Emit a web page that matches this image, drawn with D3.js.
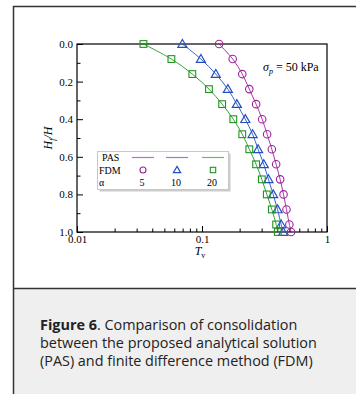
<!DOCTYPE html>
<html>
<head>
<meta charset="utf-8">
<script src="https://cdn.jsdelivr.net/npm/d3@7"></script>
<style>
  html, body { margin: 0; padding: 0; background: #fff; }
  svg { display: block; }
</style>
</head>
<body>
<div id="chart"></div>
<script>
// Valores
const hfRatio = [0, 0.08, 0.16, 0.24, 0.32, 0.40, 0.48, 0.56, 0.64, 0.72, 0.80, 0.88, 0.96, 1.0]
const tvAlpha5  = [0.137, 0.176, 0.210, 0.239, 0.271, 0.303, 0.332, 0.362, 0.392, 0.422, 0.449, 0.474, 0.500, 0.516]
const tvAlpha10 = [0.0697, 0.098, 0.129, 0.161, 0.190, 0.222, 0.254, 0.281, 0.312, 0.340, 0.371, 0.402, 0.430, 0.446]
const tvAlpha20 = [0.0340, 0.0569, 0.0837, 0.1137, 0.145, 0.178, 0.210, 0.239, 0.271, 0.301, 0.330, 0.362, 0.392, 0.404]
const alphas = ['5', '10', '20']
const xMajor = [0.01, 0.1, 1]
const xMajorLabels = ['0.01', '0.1', '1']
const yMajor = [0, 0.2, 0.4, 0.6, 0.8, 1.0]
const yMinor = [0.1, 0.3, 0.5, 0.7, 0.9]

const series = [
  { alpha: alphas[0], values: tvAlpha5,  color: '#a0209c', shape: 'circle' },
  { alpha: alphas[1], values: tvAlpha10, color: '#2350c0', shape: 'triangle' },
  { alpha: alphas[2], values: tvAlpha20, color: '#1f951f', shape: 'square' },
]

const W = 356, H = 394
const plot = { left: 77, right: 327, top: 44, bottom: 232 }
const serif = "'Liberation Serif', 'Times New Roman', serif"

const svg = d3.select('#chart').append('svg')
  .attr('width', W).attr('height', H)

// Tarjeta
svg.append('rect').attr('x', 13).attr('y', 289).attr('width', W).attr('height', H)
  .attr('fill', '#efefef')
svg.append('path')
  .attr('d', `M${W + 2},6.5 H13.5 V${H + 2}`)
  .attr('fill', 'none').attr('stroke', '#333').attr('stroke-width', 1.5)
svg.append('line').attr('x1', 13).attr('x2', W).attr('y1', 288.5).attr('y2', 288.5)
  .attr('stroke', '#333').attr('stroke-width', 1.5)

const x = d3.scaleLog().domain([0.01, 1]).range([plot.left, plot.right])
const y = d3.scaleLinear().domain([0, 1]).range([plot.top, plot.bottom])

const minorX = []
for (let d = 0.01; d < 1; d *= 10) {
  for (let k = 2; k <= 9; k++) minorX.push(+(k * d).toPrecision(2))
}

function styleAxis(g) {
  g.attr('font-family', serif).attr('font-size', 11)
  g.select('.domain').remove()
  g.selectAll('line').attr('stroke', '#000').attr('stroke-width', 1)
  g.selectAll('text')
    .attr('fill', '#000')
    .attr('font-size', '11px')
    .attr('font-weight', 'normal')
    .attr('font-family', serif)
}

// Eje X
const gx = svg.append('g').attr('transform', `translate(0,${plot.bottom})`)
  .call(d3.axisBottom(x).tickValues(xMajor).tickSize(-6).tickPadding(3)
    .tickFormat((d, i) => xMajorLabels[i]))
styleAxis(gx)
const gxm = svg.append('g').attr('transform', `translate(0,${plot.bottom})`)
  .call(d3.axisBottom(x).tickValues(minorX).tickSize(-3.5).tickFormat(''))
styleAxis(gxm)

// Eje Y
const gy = svg.append('g').attr('transform', `translate(${plot.left},0)`)
  .call(d3.axisLeft(y).tickValues(yMajor).tickSize(-6).tickPadding(4)
    .tickFormat(d3.format('.1f')))
styleAxis(gy)
const gym = svg.append('g').attr('transform', `translate(${plot.left},0)`)
  .call(d3.axisLeft(y).tickValues(yMinor).tickSize(-3.5).tickFormat(''))
styleAxis(gym)

// Marco
svg.append('rect')
  .attr('x', plot.left).attr('y', plot.top)
  .attr('width', plot.right - plot.left).attr('height', plot.bottom - plot.top)
  .attr('fill', 'none').attr('stroke', '#000').attr('stroke-width', 1.2)

// Etiquetas de ejes
svg.append('text')
  .attr('transform', `translate(52,${(plot.top + plot.bottom) / 2}) rotate(-90)`)
  .attr('text-anchor', 'middle')
  .attr('font-family', serif).attr('font-size', '12px').attr('font-style', 'italic')
  .call(t => {
    t.append('tspan').text('H')
    t.append('tspan').attr('font-size', '8px').attr('dy', 3).text('f')
    t.append('tspan').attr('dy', -3).text('/H')
  })

svg.append('text')
  .attr('x', x(0.1) - 2).attr('y', 255)
  .attr('text-anchor', 'middle')
  .attr('font-family', serif).attr('font-size', '12px')
  .call(t => {
    t.append('tspan').attr('font-style', 'italic').text('T')
    t.append('tspan').attr('font-size', '8px').attr('dy', 3).text('v')
  })

// Anotación
svg.append('text')
  .attr('x', 263).attr('y', 71)
  .attr('font-family', serif).attr('font-size', '12px')
  .call(t => {
    t.append('tspan').attr('font-style', 'italic').text('σ')
    t.append('tspan').attr('font-style', 'italic').attr('font-size', '8px').attr('dy', 3).text('p')
    t.append('tspan').attr('dy', -3).text(' = 50 kPa')
  })

// Curvas
const line = d3.line()
  .x(d => x(d[0])).y(d => y(d[1]))
  .curve(d3.curveCatmullRom)

function drawMarker(g, shape, cx, cy, size, color) {
  if (shape === 'circle') {
    g.append('circle').attr('cx', cx).attr('cy', cy).attr('r', size * 0.5)
      .attr('fill', 'none').attr('stroke', color).attr('stroke-width', 1.1)
  } else if (shape === 'triangle') {
    const s = size * 1.1
    g.append('path')
      .attr('d', `M${cx},${cy - s * 0.55} L${cx + s * 0.55},${cy + s * 0.4} L${cx - s * 0.55},${cy + s * 0.4} Z`)
      .attr('fill', 'none').attr('stroke', color).attr('stroke-width', 1.2)
  } else {
    const s = size * 0.9
    g.append('rect').attr('x', cx - s / 2).attr('y', cy - s / 2).attr('width', s).attr('height', s)
      .attr('fill', 'none').attr('stroke', color).attr('stroke-width', 1.1)
  }
}

const gData = svg.append('g')
series.forEach(s => {
  const pts = s.values.map((v, i) => [v, hfRatio[i]])
  gData.append('path').datum(pts)
    .attr('d', line)
    .attr('fill', 'none').attr('stroke', s.color).attr('stroke-width', 0.9)
  pts.forEach(p => drawMarker(gData, s.shape, x(p[0]), y(p[1]), 7.5, s.color))
})

// Leyenda
const leg = svg.append('g')
leg.append('rect').attr('x', 98.5).attr('y', 152.5).attr('width', 131).attr('height', 38)
  .attr('fill', '#ccc').attr('transform', 'translate(1,1)')
leg.append('rect').attr('x', 97.5).attr('y', 151.5).attr('width', 131).attr('height', 38)
  .attr('fill', '#fff').attr('stroke', '#c8c8c8').attr('stroke-width', 1)
const rowLabels = [['PAS', 102, 161], ['FDM', 99, 174], ['α', 99, 186]]
rowLabels.forEach(([t, lx, ly]) => {
  leg.append('text').attr('x', lx).attr('y', ly)
    .attr('font-family', serif).attr('font-size', '10px').text(t)
})
const colX = [143, 177, 213]
series.forEach((s, i) => {
  leg.append('line').attr('x1', colX[i] - 11).attr('x2', colX[i] + 11)
    .attr('y1', 157.5).attr('y2', 157.5)
    .attr('stroke', s.color).attr('stroke-width', 1.2).attr('stroke-opacity', 0.65)
  drawMarker(leg, s.shape, colX[i], 170, 6, s.color)
  leg.append('text').attr('x', colX[i] - 1).attr('y', 186)
    .attr('text-anchor', 'middle')
    .attr('font-family', serif).attr('font-size', '10px').text(s.alpha)
})

// Pie de figura
const capLines = [
  [['Figure 6', true], ['. Comparison of consolidation', false]],
  [['between the proposed analytical solution', false]],
  [['(PAS) and finite difference method (FDM)', false]],
]
capLines.forEach((parts, i) => {
  const t = svg.append('text')
    .attr('x', 40).attr('y', 330 + i * 18)
    .attr('font-family', "'Open Sans', 'Noto Sans', sans-serif")
    .attr('font-size', '14.4px').attr('fill', '#222')
  parts.forEach(([txt, bold]) => {
    const ts = t.append('tspan').text(txt)
    if (bold) ts.attr('font-weight', 'bold')
  })
})
</script>
</body>
</html>
